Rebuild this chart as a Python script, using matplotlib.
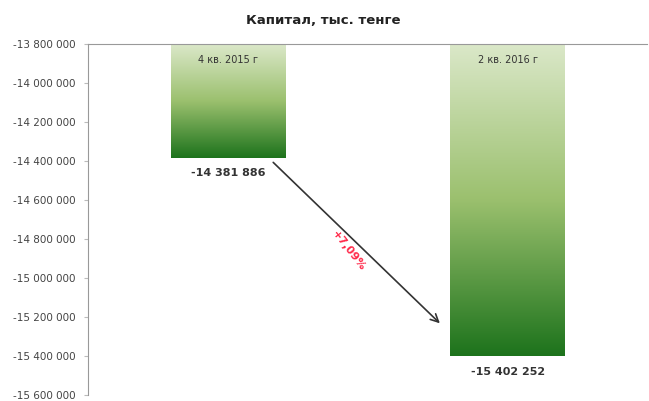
import numpy as np
import matplotlib.pyplot as plt
from matplotlib.colors import LinearSegmentedColormap

# data
periods = ["4 кв. 2015 г", "2 кв. 2016 г"]
capital = [-14381886, -15402252]
change_label = "+7,09%"
title = "Капитал, тыс. тенге"

y_top = -13800000
y_bottom = -15600000
y_ticks = np.arange(y_top, y_bottom - 1, -200000)


def fmt(v):
    s = f"{abs(int(v)):,}".replace(",", " ")
    return ("-" if v < 0 else "") + s


fig = plt.figure(figsize=(6.49, 4.01), dpi=100)
ax = fig.add_axes([0.1356, 0.015, 0.862, 0.875])

green = LinearSegmentedColormap.from_list("g", ["#dbe8c9", "#9bc06e", "#1d731c"])
grad = np.linspace(0, 1, 256).reshape(-1, 1)
width = 0.41

for i, v in enumerate(capital):
    x0, x1 = i - width / 2, i + width / 2
    ax.imshow(grad, cmap=green, aspect="auto", extent=(x0, x1, v, y_top), zorder=2)
    ax.text(i, y_top - 80000, periods[i], ha="center", va="center", fontsize=7, color="#333333", zorder=3)
    ax.text(i, v - 80000, fmt(v), ha="center", va="center", fontsize=8, fontweight="bold",
            color="#333333")

# arrow showing change
ax.annotate("", xy=(1 - width / 2 - 0.03, capital[1] + 160000),
            xytext=(width / 2 - 0.05, capital[0] - 15000),
            arrowprops=dict(arrowstyle="->", color="#333333", lw=1.2, mutation_scale=14))
ax.text(0.43, -14860000, change_label, color="#ff2a4a", fontsize=8, fontweight="bold",
        rotation=-52, ha="center", va="center")

ax.set_xlim(-0.5, 1.5)
ax.set_ylim(y_bottom, y_top)
ax.set_yticks(y_ticks)
ax.set_yticklabels([fmt(t) for t in y_ticks], fontsize=7.5, color="#444444")
ax.set_xticks([])
ax.tick_params(axis="y", length=3, color="#bbbbbb", pad=6)
for side in ["right", "bottom"]:
    ax.spines[side].set_visible(False)
ax.spines["left"].set_color("#999999")
ax.spines["top"].set_color("#999999")

fig.text(0.498, 0.95, title, ha="center", va="center", fontsize=9.5, fontweight="bold", color="#222222")

fig.savefig("out.png", dpi=100)
